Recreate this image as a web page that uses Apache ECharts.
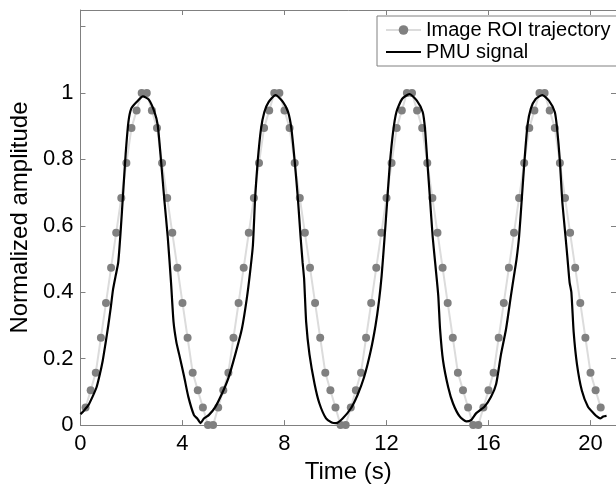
<!DOCTYPE html>
<html style="height: 100%">
<head>
    <meta charset="utf-8">
    <script src="https://cdn.jsdelivr.net/npm/echarts@6/dist/echarts.min.js"></script>
</head>
<body style="height: 100%; margin: 0; background: #fff">
<div id="container" style="width: 616px; height: 489px"></div>
<script type="text/javascript">
    // image ROI trajectory, sampled every 0.2 s starting at 0.2 s
    var roiStep = 0.2;
    var roiValue = [
        0.053, 0.105, 0.158, 0.263, 0.368, 0.474, 0.579, 0.684, 0.789, 0.895, 0.947, 1, 1,
        0.947, 0.895, 0.789, 0.684, 0.579, 0.474, 0.368, 0.263, 0.158, 0.105, 0.053, 0, 0,
        0.053, 0.105, 0.158, 0.263, 0.368, 0.474, 0.579, 0.684, 0.789, 0.895, 0.947, 1, 1,
        0.947, 0.895, 0.789, 0.684, 0.579, 0.474, 0.368, 0.263, 0.158, 0.105, 0.053, 0, 0,
        0.053, 0.105, 0.158, 0.263, 0.368, 0.474, 0.579, 0.684, 0.789, 0.895, 0.947, 1, 1,
        0.947, 0.895, 0.789, 0.684, 0.579, 0.474, 0.368, 0.263, 0.158, 0.105, 0.053, 0, 0,
        0.053, 0.105, 0.158, 0.263, 0.368, 0.474, 0.579, 0.684, 0.789, 0.895, 0.947, 1, 1,
        0.947, 0.895, 0.789, 0.684, 0.579, 0.474, 0.368, 0.263, 0.158, 0.105, 0.053
    ];

    // PMU signal
    var pmuTime = [
        0.00, 0.15, 0.31, 0.47, 0.63, 0.75, 0.87, 0.98, 1.09, 1.18, 1.28, 1.38, 1.48, 1.57, 1.67, 1.77, 1.88, 1.99, 2.19, 2.45,
        2.68, 2.90, 3.03, 3.16, 3.29, 3.42, 3.55, 3.65, 3.76, 3.87, 4.07, 4.23, 4.45, 4.58, 4.71, 4.84, 5.03, 5.29, 5.55, 5.81,
        6.07, 6.33, 6.52, 6.65, 6.76, 6.85, 6.95, 7.08, 7.21, 7.37, 7.65, 7.95, 8.14, 8.27, 8.40, 8.53, 8.63, 8.71, 8.77, 8.85,
        8.98, 9.18, 9.37, 9.63, 9.85, 10.02, 10.28, 10.60, 10.86, 11.12, 11.38, 11.57, 11.70, 11.81, 11.92, 12.03, 12.13, 12.26, 12.39, 12.61,
        12.90, 13.19, 13.42, 13.51, 13.60, 13.71, 13.81, 13.92, 14.03, 14.10, 14.22, 14.42, 14.61, 14.87, 15.13, 15.33, 15.52, 15.84, 16.10, 16.30,
        16.49, 16.69, 16.88, 17.00, 17.10, 17.20, 17.31, 17.41, 17.53, 17.66, 17.85, 18.11, 18.37, 18.60, 18.69, 18.80, 18.89, 19.02, 19.10, 19.18,
        19.25, 19.34, 19.47, 19.66, 19.90, 20.12, 20.25, 20.38, 20.50, 20.63
    ];
    var pmuValue = [
        0.033, 0.045, 0.060, 0.085, 0.114, 0.150, 0.193, 0.245, 0.300, 0.350, 0.410, 0.450, 0.490, 0.578, 0.696, 0.815, 0.913, 0.953, 0.972, 0.990,
        0.980, 0.943, 0.903, 0.795, 0.677, 0.568, 0.430, 0.310, 0.250, 0.213, 0.144, 0.085, 0.030, 0.020, 0.006, 0.020, 0.030, 0.055, 0.095, 0.144,
        0.213, 0.290, 0.380, 0.460, 0.540, 0.686, 0.795, 0.893, 0.943, 0.972, 0.994, 0.972, 0.943, 0.893, 0.795, 0.677, 0.568, 0.490, 0.440, 0.310,
        0.213, 0.124, 0.065, 0.020, 0.008, 0.006, 0.020, 0.050, 0.090, 0.144, 0.223, 0.300, 0.370, 0.450, 0.560, 0.677, 0.785, 0.884, 0.943, 0.982,
        0.997, 0.977, 0.943, 0.893, 0.795, 0.677, 0.568, 0.480, 0.390, 0.290, 0.193, 0.114, 0.065, 0.026, 0.011, 0.016, 0.036, 0.055, 0.085, 0.124,
        0.213, 0.290, 0.390, 0.450, 0.500, 0.568, 0.686, 0.795, 0.903, 0.953, 0.982, 0.994, 0.977, 0.943, 0.893, 0.795, 0.677, 0.568, 0.500, 0.430,
        0.400, 0.280, 0.183, 0.104, 0.055, 0.036, 0.026, 0.020, 0.026, 0.028
    ];

    var xTicks = [0, 4, 8, 12, 16, 20];
    var yTicks = [0, 0.2, 0.4, 0.6, 0.8, 1];

    var roiData = roiValue.map(function (v, i) {
        return [+((i + 1) * roiStep).toFixed(1), v];
    });
    var pmuData = pmuTime.map(function (t, i) {
        return [t, pmuValue[i]];
    });

    var font = "'Liberation Sans', Arial, sans-serif";
    var axisGray = '#808080';

    function frameX(pos, showLabel) {
        return {
            type: 'value', position: pos, min: 0, max: 21, interval: 4,
            axisLine: {show: true, onZero: false, lineStyle: {color: axisGray, width: 1}},
            axisTick: {show: true, inside: true, length: 5, lineStyle: {color: axisGray}},
            splitLine: {show: false},
            axisLabel: {
                show: showLabel, color: '#000', fontSize: 22, fontFamily: font, margin: 8,
                showMaxLabel: false,
                formatter: function (v) { return xTicks.indexOf(v) >= 0 ? String(v) : ''; }
            },
            name: showLabel ? 'Time (s)' : '',
            nameLocation: 'middle', nameGap: 29,
            nameTextStyle: {color: '#000', fontSize: 24, fontFamily: font}
        };
    }
    function frameY(pos, showLabel) {
        return {
            type: 'value', position: pos, min: 0, max: 1.25, interval: 0.2,
            axisLine: {show: true, onZero: false, lineStyle: {color: axisGray, width: 1}},
            axisTick: {show: true, inside: true, length: 5, lineStyle: {color: axisGray}},
            splitLine: {show: false},
            axisLabel: {
                show: showLabel, color: '#000', fontSize: 22, fontFamily: font, margin: 7,
                showMaxLabel: false,
                formatter: function (v) {
                    var r = +v.toFixed(1);
                    return yTicks.indexOf(r) >= 0 ? String(r) : '';
                }
            },
            name: showLabel ? 'Normalized amplitude' : '',
            nameLocation: 'middle', nameGap: 43,
            nameTextStyle: {color: '#000', fontSize: 24, fontFamily: font}
        };
    }

    var myChart = echarts.init(document.getElementById('container'));
    var option = {
        animation: false,
        backgroundColor: '#fff',
        grid: {left: 77, top: 10, width: 541, height: 422},
        legend: {
            left: 377, top: 16, orient: 'vertical',
            padding: [4, 6, 4, 8], itemGap: 2,
            itemWidth: 35, itemHeight: 12,
            borderColor: axisGray, borderWidth: 1,
            backgroundColor: '#fff',
            textStyle: {color: '#000', fontSize: 20, fontFamily: font},
            data: [
                {name: 'Image ROI trajectory'},
                {name: 'PMU signal', icon: 'path://M0,0 L35,0 L35,2.2 L0,2.2 Z'}
            ]
        },
        xAxis: [frameX('bottom', true), frameX('top', false)],
        yAxis: [frameY('left', true), frameY('right', false)],
        series: [
            {
                name: 'Image ROI trajectory', type: 'line', data: roiData,
                symbol: 'circle', symbolSize: 8, showAllSymbol: true,
                itemStyle: {color: '#808080'},
                lineStyle: {color: '#dcdcdc', width: 2},
                z: 2
            },
            {
                name: 'PMU signal', type: 'line', data: pmuData,
                symbol: 'none', smooth: 0.2,
                itemStyle: {color: '#000'},
                lineStyle: {color: '#000', width: 2.2},
                z: 3
            }
        ]
    };
    myChart.setOption(option);
</script>
</body>
</html>
